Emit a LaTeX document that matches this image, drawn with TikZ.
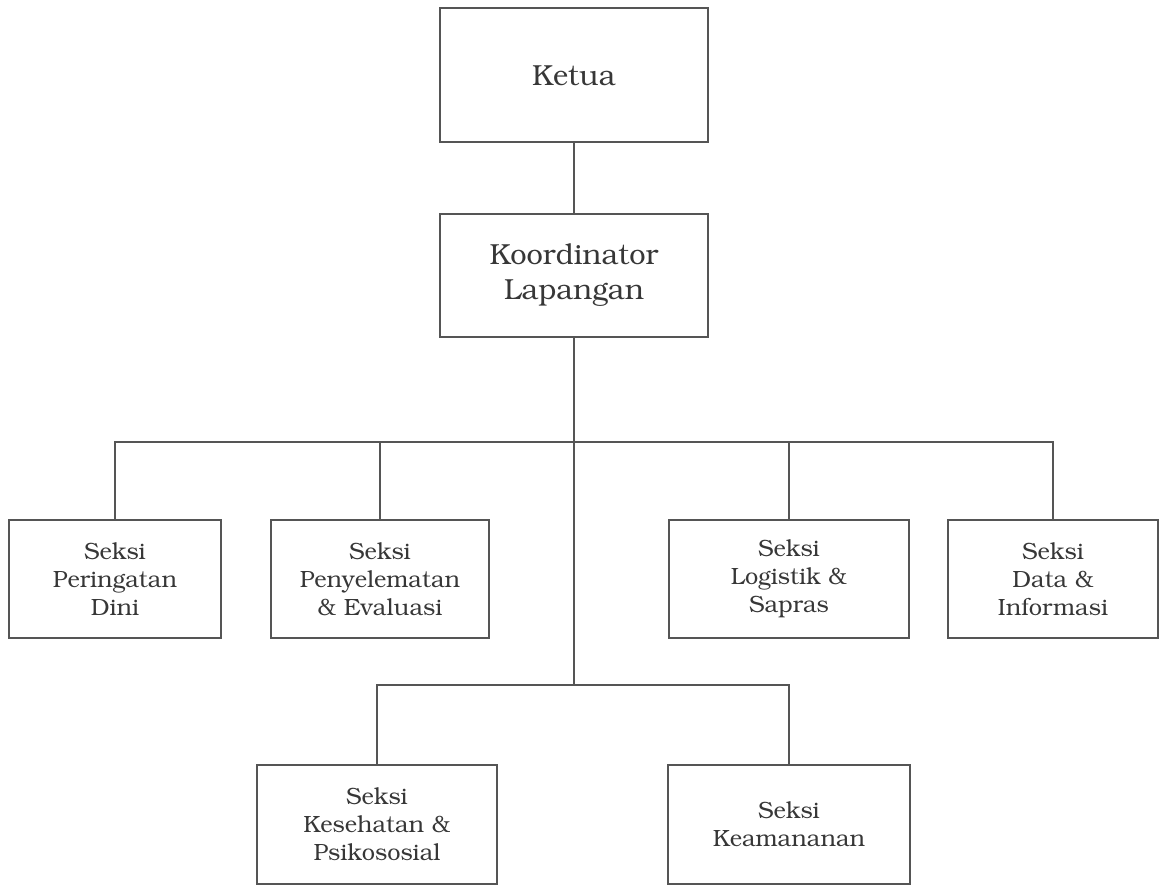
\documentclass[tikz,border=0pt]{standalone}
\usepackage[T1]{fontenc}
\usepackage{bookman}
\usepackage{tikz}

\definecolor{linegray}{RGB}{85,85,85}
\definecolor{textgray}{RGB}{55,55,55}

\begin{document}
\begin{tikzpicture}[x=1pt,y=-1pt]
\tikzstyle{every node}+=[inner sep=0pt]
\tikzstyle{box}=[draw=linegray, line width=1.6pt, align=center, text=textgray]
\tikzstyle{bigbox}=[box, font=\fontsize{29}{35}\selectfont]
\tikzstyle{seksibox}=[box, minimum height=118pt, font=\fontsize{23.5}{28}\selectfont]
\tikzstyle{conn}=[draw=linegray, line width=1.6pt]
\useasboundingbox (0,0) rectangle (1161,886);
% pimpinan
\node [bigbox, minimum width=268pt, minimum height=134pt] (ketua) at (574,75) {Ketua};
\node [bigbox, minimum width=268pt, minimum height=123pt] (koord) at (574,275.5) {Koordinator\\Lapangan};
% seksi baris atas
\node [seksibox, minimum width=212pt] (dini) at (115,579) {Seksi\\Peringatan\\Dini};
\node [seksibox, minimum width=218pt] (selamat) at (380,579) {Seksi\\Penyelematan\\\& Evaluasi};
\node [seksibox, minimum width=240pt] (logistik) at (789,579) {Seksi\\Logistik \&\\Sapras};
\node [seksibox, minimum width=210pt] (data) at (1053,579) {Seksi\\Data \&\\Informasi};
% seksi baris bawah
\node [seksibox, minimum width=240pt, minimum height=119pt] (sehat) at (377,824.5) {Seksi\\Kesehatan \&\\Psikososial};
\node [seksibox, minimum width=242pt, minimum height=119pt] (aman) at (789,824.5) {Seksi\\Keamananan};
% garis
\coordinate (bus) at (574,442);
\coordinate (lowbus) at (574,685);
\draw [conn] (ketua.south) -- (koord.north);
\draw [conn] (koord.south) -- (lowbus);
\draw [conn] (dini.north) |- (data.north |- bus) -- (data.north);
\draw [conn] (selamat.north) -- (selamat.north |- bus);
\draw [conn] (logistik.north) -- (logistik.north |- bus);
\draw [conn] (sehat.north) |- (lowbus) -| (aman.north);
\end{tikzpicture}
\end{document}
